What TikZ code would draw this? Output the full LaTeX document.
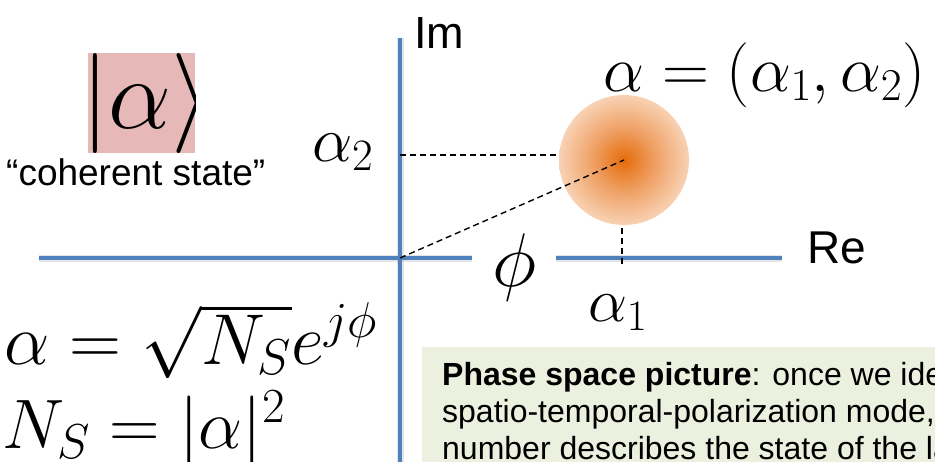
\RequirePackage{fix-cm}
\documentclass[tikz,border=0pt]{standalone}
\usepackage{fontspec}
\setmainfont{Liberation Sans}
\definecolor{axisblue}{HTML}{4F81BD}
\definecolor{pinkbg}{HTML}{E6B8B7}
\definecolor{greenbg}{HTML}{EBF1DE}
\definecolor{glowA}{HTML}{E46C0A}
\definecolor{glowB}{HTML}{EFA064}
\definecolor{glowC}{HTML}{F8D2B4}
\pgfdeclareradialshading{glow}{\pgfpoint{0bp}{0bp}}{color(0bp)=(glowA); color(12bp)=(glowB); color(25bp)=(glowC); color(50bp)=(glowC)}
\newcommand{\fsz}[1]{\fontsize{#1}{#1}\selectfont}
\begin{document}
\begin{tikzpicture}[x=1pt,y=-1pt,
  axis/.style={draw=axisblue,line width=4.5pt},
  axshadow/.style={draw=black,opacity=0.10,line width=7pt},
  guide/.style={draw=black,line width=1.4pt,dash pattern=on 6pt off 4pt},
  lbl/.style={inner sep=0pt,anchor=base west},
  note/.style={inner sep=0pt,anchor=base west,font=\fsz{32}}
]
\useasboundingbox (0,0) rectangle (935,461);
\clip (0,0) rectangle (935,461);
% ket in pink box
\fill[pinkbg] (88,53) rectangle (195,153);
\begin{scope}
  \clip (88,53) rectangle (195,153);
  \node[lbl,font=\fsz{100}] (ket) at (81,128) {$|\alpha\rangle$};
\end{scope}
\node[lbl,font=\fsz{37}] (coh) at (6,185) {“coherent state”};
% axes
\coordinate (ImTop) at (400,38);
\coordinate (ImBot) at (400,475);
\coordinate (O) at (400,258);
\coordinate (ReL) at (39,258);
\coordinate (GapL) at (472,258);
\coordinate (GapR) at (556,258);
\coordinate (ReR) at (782,258);
\begin{scope}[shift={(1.5,3)}]
  \draw[axshadow] (ImTop) -- (ImBot);
  \draw[axshadow] (ReL) -- (GapL);
  \draw[axshadow] (GapR) -- (ReR);
\end{scope}
\draw[axis] (ImTop) -- (ImBot);
\draw[axis] (ReL) -- (GapL);
\draw[axis] (GapR) -- (ReR);
% blob
\node[circle,minimum size=130pt,inner sep=0pt,shading=glow] (blob) at (624,160) {};
% guides
\coordinate (A2L) at (400,155);
\coordinate (A2R) at (559,155);
\coordinate (A1T) at (622,228);
\coordinate (A1B) at (622,265);
\draw[guide] (A2L) -- (A2R);
\draw[guide] (O) -- (blob.center);
\draw[guide] (A1T) -- (A1B);
% labels
\node[lbl,font=\fsz{45}] (im) at (414,48) {Im};
\node[lbl,font=\fsz{46}] (re) at (807,263) {Re};
\node[lbl,font=\fsz{65}] (pt) at (603,91) {$\alpha=(\alpha_1,\alpha_2)$};
\node[lbl,font=\fsz{64}] (a2) at (312,161) {$\alpha_2$};
\node[lbl,font=\fsz{62}] (a1) at (588,321) {$\alpha_1$};
\node[inner sep=0pt,anchor=base,font=\fsz{76}] (phi) at (515,286) {$\phi$};
% equations
\node[lbl,font=\fsz{72}] (eq1) at (4,364) {$\alpha = \sqrt{N_S}e^{j\phi}$};
\node[lbl,font=\fsz{70}] (eq2) at (2,448) {$N_S = |\alpha|^2$};
% note box
\fill[greenbg] (422,347) rectangle (945,470);
\node[note] (n1) at (442,385) {\textbf{Phase space picture}: once we identify the};
\node[note] (n2) at (442,422) {spatio-temporal-polarization mode, a complex};
\node[note] (n3) at (442,459) {number describes the state of the laser.};
\end{tikzpicture}
\end{document}
